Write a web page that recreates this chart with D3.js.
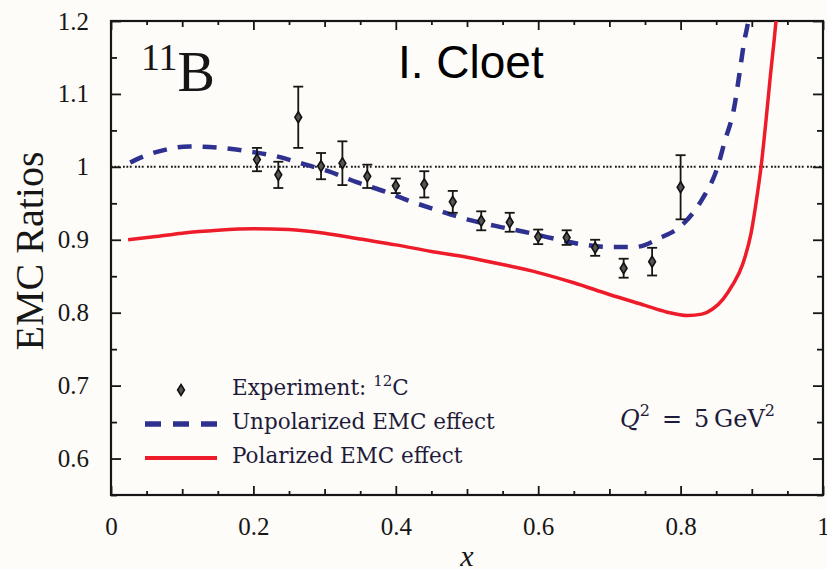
<!DOCTYPE html>
<meta charset="utf-8">
<script src="https://d3js.org/d3.v7.min.js"></script>
<style>
  body { margin: 0; background: #fdfcf8; }
  svg { display: block; }
</style>
<div id="body"></div>
<script>
// Data
var expX   = [0.205, 0.235, 0.263, 0.295, 0.325, 0.36, 0.40, 0.44, 0.48, 0.52, 0.56, 0.60, 0.64, 0.68, 0.72, 0.76, 0.80];
var expY   = [1.010, 0.989, 1.068, 1.001, 1.005, 0.987, 0.974, 0.976, 0.952, 0.926, 0.924, 0.904, 0.903, 0.889, 0.861, 0.870, 0.972];
var expErr = [0.016, 0.018, 0.042, 0.018, 0.030, 0.016, 0.010, 0.018, 0.015, 0.013, 0.013, 0.010, 0.010, 0.011, 0.013, 0.019, 0.044];

var unpolX = [0.027, 0.04, 0.07, 0.11, 0.155, 0.195, 0.23, 0.27, 0.305, 0.345, 0.385, 0.42, 0.46, 0.50, 0.54, 0.58, 0.62, 0.66, 0.70, 0.735, 0.77, 0.805, 0.83, 0.852, 0.862, 0.875, 0.883, 0.889, 0.895, 0.899];
var unpolY = [1.006, 1.012, 1.022, 1.028, 1.026, 1.021, 1.015, 1.004, 0.994, 0.979, 0.966, 0.953, 0.940, 0.928, 0.919, 0.911, 0.902, 0.894, 0.890, 0.890, 0.902, 0.923, 0.955, 1.000, 1.035, 1.080, 1.130, 1.170, 1.200, 1.230];

var polX = [0.024, 0.06, 0.10, 0.15, 0.20, 0.25, 0.30, 0.35, 0.40, 0.45, 0.50, 0.55, 0.60, 0.65, 0.70, 0.75, 0.78, 0.81, 0.83, 0.845, 0.86, 0.873, 0.887, 0.899, 0.908, 0.913, 0.920, 0.926, 0.931, 0.936];
var polY = [0.900, 0.904, 0.909, 0.913, 0.915, 0.914, 0.909, 0.901, 0.893, 0.884, 0.876, 0.866, 0.855, 0.841, 0.825, 0.810, 0.801, 0.796, 0.798, 0.805, 0.819, 0.838, 0.866, 0.909, 0.964, 1.000, 1.064, 1.124, 1.170, 1.220];

var xTicks = [0, 0.2, 0.4, 0.6, 0.8, 1];
var xTickLabels = ["0", "0.2", "0.4", "0.6", "0.8", "1"];
var yTicks = [0.6, 0.7, 0.8, 0.9, 1.0, 1.1, 1.2];
var yTickLabels = ["0.6", "0.7", "0.8", "0.9", "1", "1.1", "1.2"];
var legendLabels = ["Experiment: ", "Unpolarized EMC effect", "Polarized EMC effect"];

var W = 827, H = 569;
var margin = {top: 21, right: 4, bottom: 74, left: 111},
    width = W - margin.left - margin.right,
    height = H - margin.top - margin.bottom;

var serif = "'Liberation Serif', 'Times New Roman', serif";
var wideSerif = "'DejaVu Serif', serif";
var blue = "#2e3190", red = "#ee1c2a", ink = "#161616", navy = "#1e1b3a";

var svg = d3.select("#body").append("svg")
    .attr("width", W)
    .attr("height", H)
  .append("g")
    .attr("transform", "translate(" + margin.left + "," + margin.top + ")");

var x = d3.scaleLinear().domain([0, 1]).range([0, width]);
var y = d3.scaleLinear().domain([0.55, 1.2]).range([height, 0]);

svg.append("clipPath").attr("id", "clip")
  .append("rect").attr("width", width).attr("height", height);

// tick lengths: bigger on labelled ticks
var xMinor = d3.range(0, 1.0001, 0.05);
var yMinor = d3.range(0.55, 1.2001, 0.05);
function xLen(d) { var r = Math.round(d * 100); return r % 20 === 0 ? 9 : (r % 10 === 0 ? 6 : 4); }
function yLen(d) { var r = Math.round(d * 100); return r % 10 === 0 ? 10 : 6; }

// bottom axis
var gx = svg.append("g")
  .attr("transform", "translate(0," + height + ")")
  .call(d3.axisBottom(x).tickValues(xMinor).tickSize(0).tickPadding(22)
    .tickFormat(function(d) { var i = xTicks.findIndex(function(t) { return Math.abs(t - d) < 1e-6; }); return i < 0 ? "" : xTickLabels[i]; }));
gx.selectAll(".tick line").attr("y2", function(d) { return -xLen(d); });

// top axis (ticks only)
var gxt = svg.append("g")
  .call(d3.axisTop(x).tickValues(xMinor).tickSize(0).tickFormat(""));
gxt.selectAll(".tick line").attr("y2", function(d) { return xLen(d); });

// left axis
var gy = svg.append("g")
  .call(d3.axisLeft(y).tickValues(yMinor).tickSize(0).tickPadding(22)
    .tickFormat(function(d) { var i = yTicks.findIndex(function(t) { return Math.abs(t - d) < 1e-6; }); return i < 0 ? "" : yTickLabels[i]; }));
gy.selectAll(".tick line").attr("x2", function(d) { return yLen(d); });

// right axis (ticks only)
var gyr = svg.append("g")
  .attr("transform", "translate(" + width + ",0)")
  .call(d3.axisRight(y).tickValues(yMinor).tickSize(0).tickFormat(""));
gyr.selectAll(".tick line").attr("x2", function(d) { return -yLen(d); });

svg.selectAll(".domain").remove();
svg.selectAll(".tick line").attr("stroke", ink).attr("stroke-width", 1.8);
svg.selectAll(".tick text")
  .attr("font-family", serif).attr("font-size", 25).attr("fill", ink);

// frame
svg.append("rect")
  .attr("width", width).attr("height", height)
  .attr("fill", "none").attr("stroke", ink).attr("stroke-width", 2.2);

// dotted line at 1
svg.append("line")
  .attr("x1", 0).attr("x2", width)
  .attr("y1", y(1)).attr("y2", y(1))
  .attr("stroke", ink).attr("stroke-width", 2)
  .attr("stroke-dasharray", "1.8,1.6,1.8,1.6,1.8,3.4");

var plot = svg.append("g").attr("clip-path", "url(#clip)");

var line = d3.line()
  .x(function(d) { return x(d[0]); })
  .y(function(d) { return y(d[1]); })
  .curve(d3.curveMonotoneX);

plot.append("path")
  .datum(d3.zip(polX, polY))
  .attr("d", line)
  .attr("fill", "none").attr("stroke", red).attr("stroke-width", 3.5);

plot.append("path")
  .datum(d3.zip(unpolX, unpolY))
  .attr("d", line)
  .attr("fill", "none").attr("stroke", blue).attr("stroke-width", 4.5)
  .attr("stroke-dasharray", "14,11");

// experiment points with error bars
var pts = plot.selectAll("g.pt")
  .data(d3.range(expX.length))
  .enter().append("g")
    .attr("transform", function(i) { return "translate(" + x(expX[i]) + "," + y(expY[i]) + ")"; });

function errTop(i) { return y(expY[i] + expErr[i]) - y(expY[i]); }
function errBot(i) { return y(expY[i] - expErr[i]) - y(expY[i]); }

pts.append("line")
  .attr("y1", errTop).attr("y2", errBot)
  .attr("stroke", ink).attr("stroke-width", 1.8);
pts.append("line")
  .attr("x1", -5).attr("x2", 5).attr("y1", errTop).attr("y2", errTop)
  .attr("stroke", ink).attr("stroke-width", 1.8);
pts.append("line")
  .attr("x1", -5).attr("x2", 5).attr("y1", errBot).attr("y2", errBot)
  .attr("stroke", ink).attr("stroke-width", 1.8);

var diamond = "M0,-5.5L3.4,0L0,5.5L-3.4,0Z";
pts.append("path")
  .attr("d", diamond)
  .attr("fill", "#555").attr("stroke", "#111").attr("stroke-width", 1.6);

// axis titles
d3.select("svg").append("text")
  .attr("transform", "translate(43,251) rotate(-90)")
  .attr("text-anchor", "middle")
  .attr("font-family", serif).attr("font-size", 40).attr("fill", ink)
  .text("EMC Ratios");

d3.select("svg").append("text")
  .attr("x", margin.left + width / 2).attr("y", 566)
  .attr("text-anchor", "middle")
  .attr("font-family", serif).attr("font-style", "italic").attr("font-size", 30).attr("fill", ink)
  .text("x");

// 11B label
var lab = d3.select("svg").append("text")
  .attr("x", 141).attr("y", 91)
  .attr("font-family", serif).attr("fill", ink);
lab.append("tspan").attr("font-size", 38).attr("dy", -21).text("11");
lab.append("tspan").attr("font-size", 56).attr("dy", 21).text("B");

d3.select("svg").append("text")
  .attr("x", 398).attr("y", 78)
  .attr("font-family", "'Liberation Sans', Arial, sans-serif").attr("font-size", 46).attr("fill", "#000")
  .text("I. Cloet");

// legend
var leg = svg.append("g");
var lx0 = 145 - margin.left, lx1 = 217 - margin.left, tx = 232 - margin.left;
leg.append("path")
  .attr("d", diamond)
  .attr("transform", "translate(" + (181 - margin.left) + "," + (390 - margin.top) + ")")
  .attr("fill", "#555").attr("stroke", "#111").attr("stroke-width", 1.6);
leg.append("line")
  .attr("x1", lx0).attr("x2", lx1).attr("y1", 424 - margin.top).attr("y2", 424 - margin.top)
  .attr("stroke", blue).attr("stroke-width", 5.5).attr("stroke-dasharray", "16,12");
leg.append("line")
  .attr("x1", lx0).attr("x2", lx1).attr("y1", 458 - margin.top).attr("y2", 458 - margin.top)
  .attr("stroke", red).attr("stroke-width", 3.8);

var legY = [395, 429, 463];
var lt = leg.selectAll("text.lg")
  .data(legendLabels)
  .enter().append("text")
    .attr("x", tx)
    .attr("y", function(d, i) { return legY[i] - margin.top; })
    .attr("font-family", wideSerif).attr("font-size", 21.5).attr("fill", navy)
    .text(function(d) { return d; });
var e = d3.select(lt.nodes()[0]);
e.append("tspan").attr("font-size", 15).attr("dy", -9).text("12");
e.append("tspan").attr("dy", 9).text("C");

// Q^2 annotation
var q = d3.select("svg").append("text")
  .attr("x", 620).attr("y", 427)
  .attr("font-family", wideSerif).attr("font-size", 24).attr("fill", navy);
q.append("tspan").attr("font-style", "italic").text("Q");
q.append("tspan").attr("font-size", 16).attr("dy", -11).text("2");
q.append("tspan").attr("dy", 11).text("\u2002=\u20025\u2009GeV");
q.append("tspan").attr("font-size", 16).attr("dy", -11).text("2");
</script>
